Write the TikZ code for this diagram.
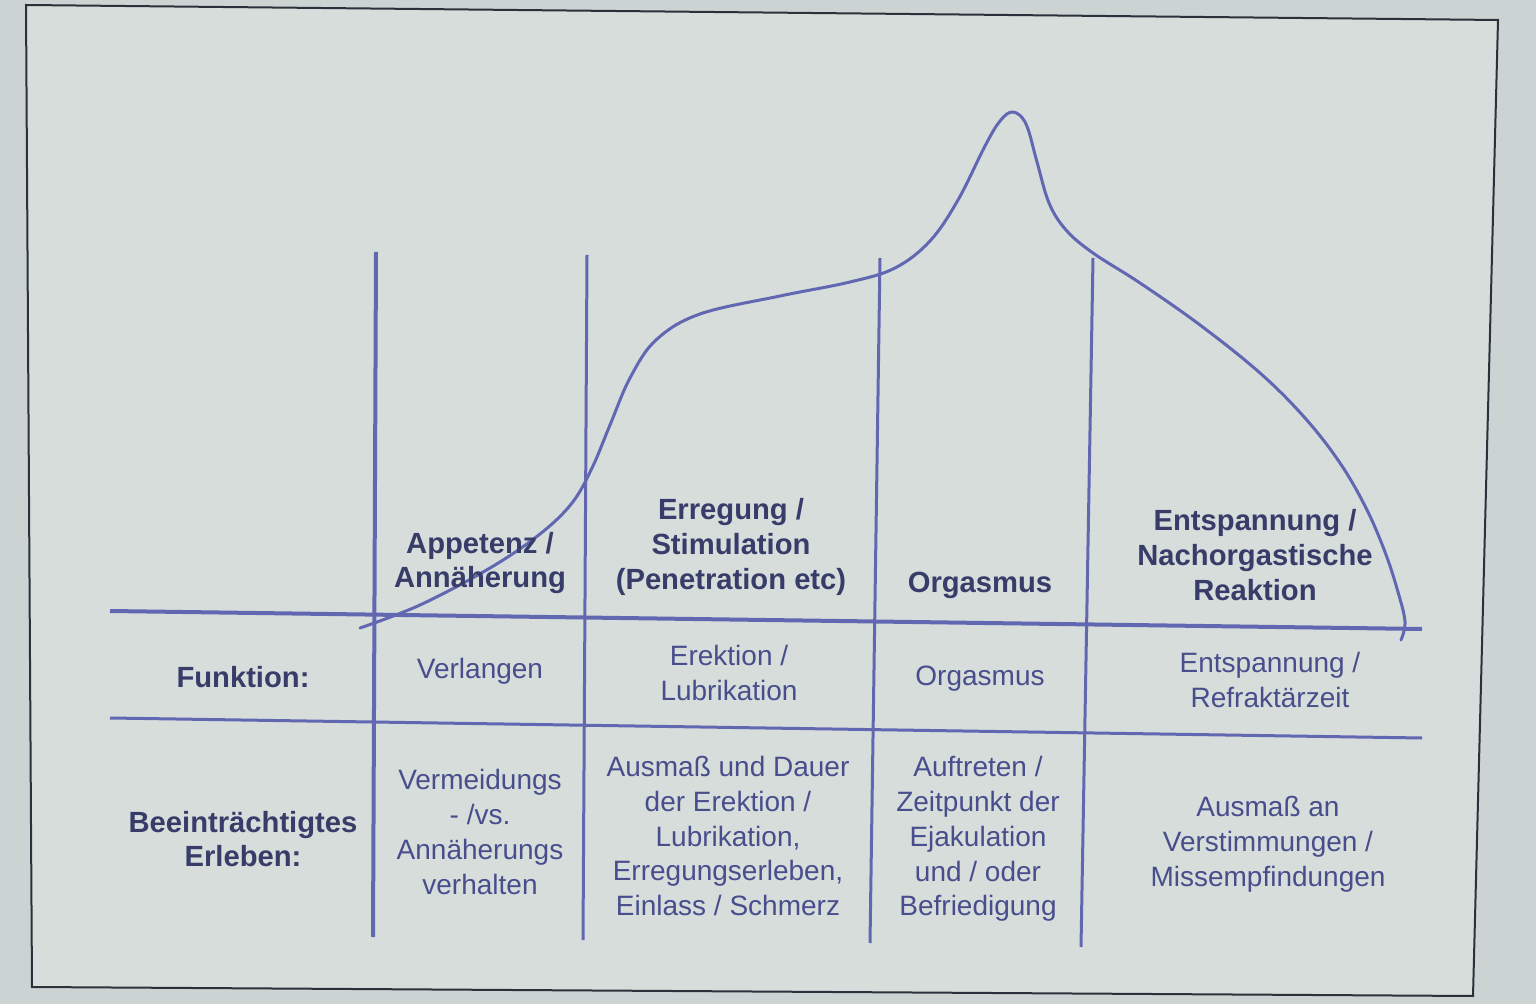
\documentclass[tikz,border=0pt]{standalone}
\usepackage{fontspec}
\setmainfont{Liberation Sans}
\definecolor{bgout}{RGB}{204,212,211}
\definecolor{bgin}{RGB}{214,221,219}
\definecolor{grid}{RGB}{98,103,178}
\definecolor{headtxt}{RGB}{55,60,105}
\definecolor{celltxt}{RGB}{72,78,140}
\definecolor{frame}{RGB}{45,48,58}
\begin{document}
\begin{tikzpicture}[x=0.5pt,y=-0.5pt,
  gridline/.style={draw=grid,line width=1.5pt},
  curveline/.style={draw=grid,line width=1.5pt,line cap=round,line join=round},
  head/.style={font=\fontsize{14.6}{17.4}\selectfont\bfseries,text=headtxt,align=center,inner sep=0pt},
  cell/.style={font=\fontsize{14}{17.4}\selectfont,text=celltxt,align=center,inner sep=0pt}]
\useasboundingbox (0,0) rectangle (1536,1004);
\fill[bgout] (0,0) rectangle (1536,1004);
\filldraw[fill=bgin,draw=frame,line width=1pt] (26,5) -- (1498,20) -- (1473,996) -- (32,987) -- cycle;
% grid
\draw[gridline,line width=2pt] (376,252) -- (373,937);
\draw[gridline] (587,255) -- (583,940);
\draw[gridline] (880,258) -- (870,943);
\draw[gridline] (1093,258) -- (1081,947);
\draw[gridline,line width=2pt] (110,611) -- (1422,629);
\draw[gridline] (110,718) -- (1422,738);
% curve
\draw[curveline] plot[smooth,tension=0.6] coordinates {
 (360,628) (420,605) (490,568) (540,534) (572,503) (592,468) (610,425)
 (630,378) (656,340) (700,314) (780,296) (850,282)
 (895,268) (930,241) (958,200) (985,146) (1000,121) (1013,112) (1026,124)
 (1037,162) (1049,203) (1066,230) (1093,253) (1140,283) (1200,325)
 (1260,373) (1305,418) (1340,463) (1366,508) (1385,552) (1398,592)
 (1405,622) (1401,640)};
% header row
\node[head] (h1) at (480,563) {Appetenz /\\Annäherung};
\node[head] (h2) at (731,547) {Erregung /\\Stimulation\\(Penetration etc)};
\node[head] (h3) at (980,585) {Orgasmus};
\node[head] (h4) at (1255,555) {Entspannung /\\Nachorgastische\\Reaktion};
% Funktion row
\node[head] (f0) at (243,677) {Funktion:};
\node[cell] (f1) at (480,671) {Verlangen};
\node[cell] (f2) at (729,673) {Erektion /\\Lubrikation};
\node[cell] (f3) at (980,679) {Orgasmus};
\node[cell] (f4) at (1270,680) {Entspannung /\\Refraktärzeit};
% Erleben row
\node[head] (e0) at (243,839) {Beeinträchtigtes\\Erleben:};
\node[cell] (e1) at (480,832) {Vermeidungs\\- /vs.\\Annäherungs\\verhalten};
\node[cell] (e2) at (728,836) {Ausmaß und Dauer\\der Erektion /\\Lubrikation,\\Erregungserleben,\\Einlass / Schmerz};
\node[cell] (e3) at (978,839) {Auftreten /\\Zeitpunkt der\\Ejakulation\\und / oder\\Befriedigung};
\node[cell] (e4) at (1268,844) {Ausmaß an\\Verstimmungen /\\Missempfindungen};
\end{tikzpicture}
\end{document}
